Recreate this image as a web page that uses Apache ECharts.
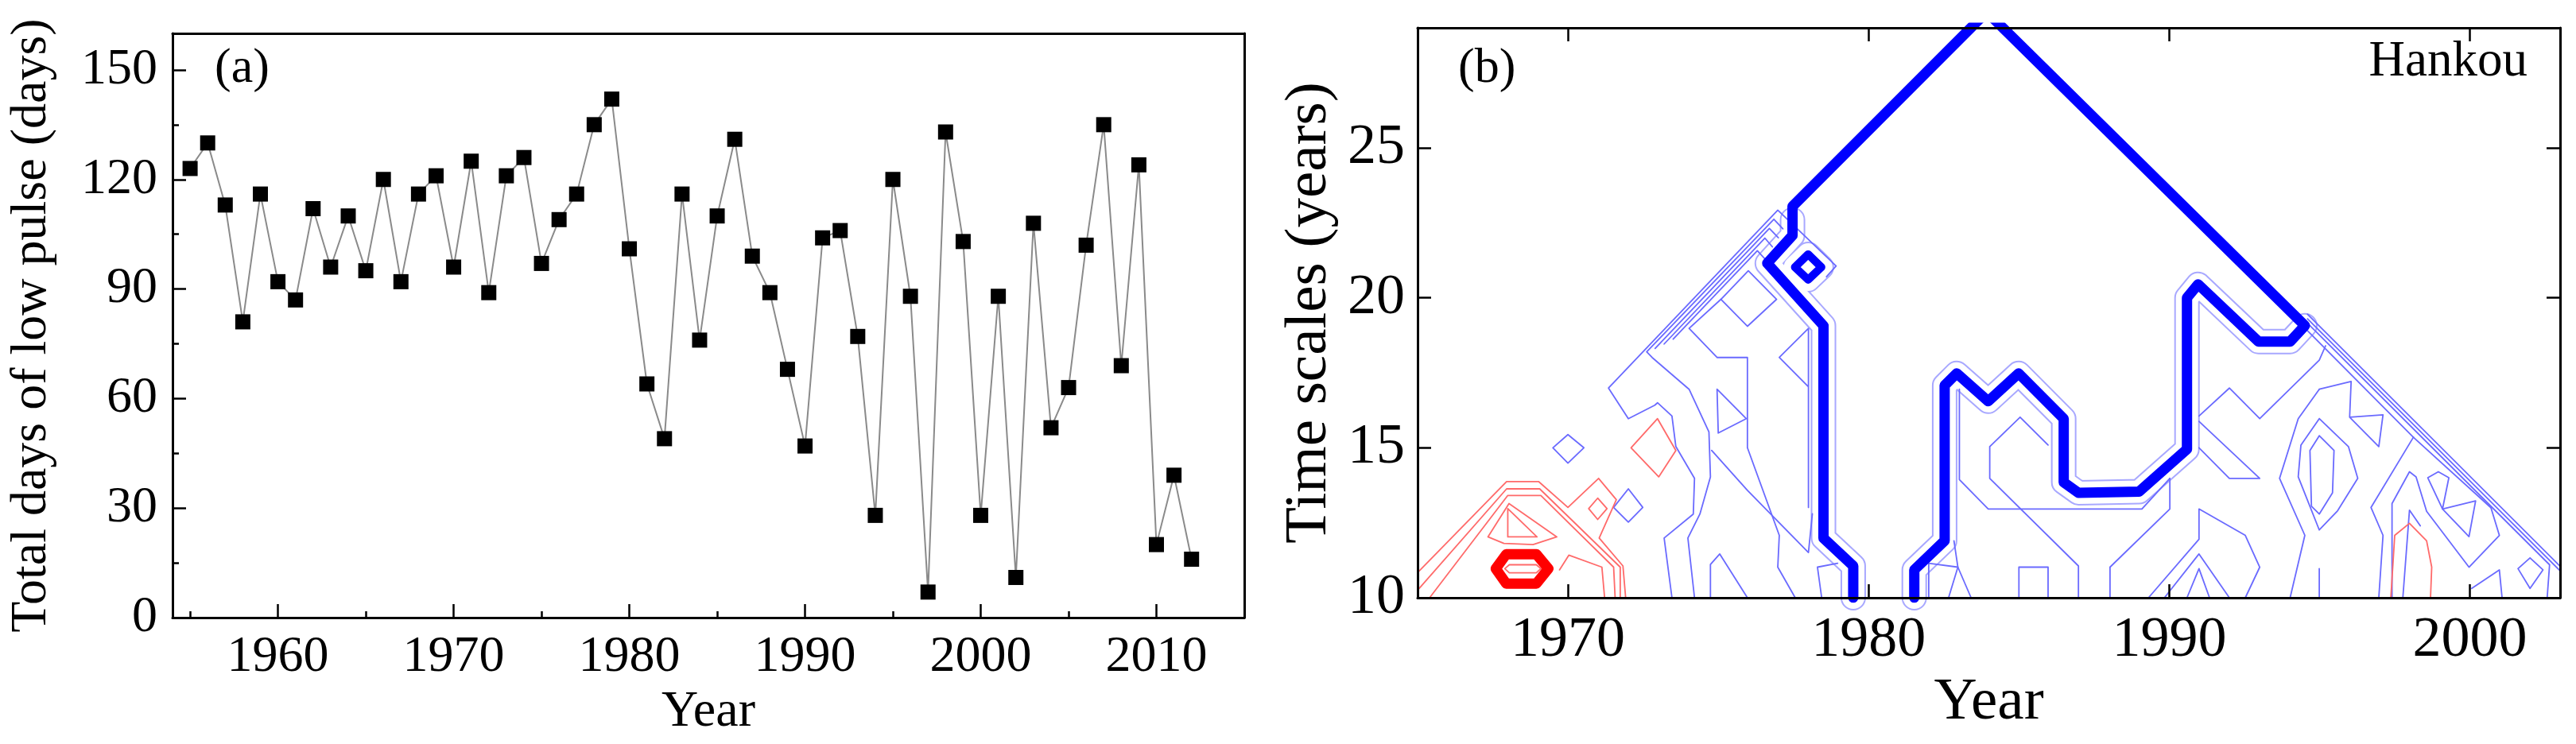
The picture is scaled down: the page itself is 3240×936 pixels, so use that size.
<!DOCTYPE html>
<html>
<head>
<meta charset="utf-8">
<script src="https://cdn.jsdelivr.net/npm/echarts@6/dist/echarts.min.js"></script>
<style>
html,body{margin:0;padding:0;background:#fff;}
#chart{width:3240px;height:936px;}
</style>
</head>
<body>
<div id="chart"></div>
<script>
// ---------- Panel (a) data ----------
const years = [1955,1956,1957,1958,1959,1960,1961,1962,1963,1964,1965,1966,1967,1968,1969,1970,1971,1972,1973,1974,1975,1976,1977,1978,1979,1980,1981,1982,1983,1984,1985,1986,1987,1988,1989,1990,1991,1992,1993,1994,1995,1996,1997,1998,1999,2000,2001,2002,2003,2004,2005,2006,2007,2008,2009,2010,2011,2012];
const lowPulseDays = [123,130,113,81,116,92,87,112,96,110,95,120,92,116,121,96,125,89,121,126,97,109,116,135,142,101,64,49,116,76,110,131,99,89,68,47,104,106,77,28,120,88,7,133,103,28,88,11,108,52,63,102,135,69,124,20,39,16];
const xTicksA = [1960,1970,1980,1990,2000,2010];
const xMinorTicksA = [1955,1965,1975,1985,1995,2005];
const yTicksA = [0,30,60,90,120,150];
const yMinorTicksA = [15,45,75,105,135];

// ---------- Panel (b) data: contour polylines as [year, time scale] ----------
const xTicksB = [1970,1980,1990,2000];
const yTicksB = [10,15,20,25];

const thickBlueMain = [[1979.49,10],[1979.49,11.06],[1978.5,11.99],[1978.5,19.07],[1976.63,21.15],[1977.47,22.08],[1977.47,23.05],[1983.93,29.53],[1994.51,19.07],[1994.02,18.54],[1992.97,18.54],[1990.96,20.45],[1990.59,20.0],[1990.59,14.95],[1989.0,13.54],[1986.98,13.5],[1986.49,13.85],[1986.49,15.97],[1984.99,17.48],[1983.98,16.55],[1982.93,17.48],[1982.53,17.08],[1982.53,11.9],[1981.52,10.93],[1981.52,10]];
const thickBlueRing = [[1977.55,21.02],[1977.99,21.45],[1978.43,21.02],[1977.99,20.6],[1977.55,21.02]];
const haloLeft = [[1979.49,10],[1979.49,11.06],[1978.5,11.99],[1978.5,19.07],[1976.63,21.15],[1977.47,22.08],[1977.47,22.6]];
const haloRight = [[1981.52,10],[1981.52,10.93],[1982.53,11.9],[1982.53,17.08],[1982.93,17.48],[1983.98,16.55],[1984.99,17.48],[1986.49,15.97],[1986.49,13.85],[1986.98,13.5],[1989.0,13.54],[1990.59,14.95],[1990.59,20.0],[1990.96,20.45],[1992.97,18.54],[1994.02,18.54],[1994.51,19.07]];

const thickRedRing = [[1967.6,10.97],[1967.95,11.45],[1968.95,11.45],[1969.35,10.97],[1968.95,10.47],[1967.95,10.47],[1967.6,10.97]];
const redA = [[1965.0,10.84],[1967.96,13.87],[1969.03,13.87],[1970.0,13.01],[1971.02,13.98],[1971.61,13.27],[1971.04,11.99],[1971.83,11.06],[1971.92,10]];
const redB = [[1965.05,10.31],[1967.96,13.63],[1969.06,13.63],[1971.74,11.02],[1971.74,10]];
const redC = [[1965.4,10],[1968.0,13.41],[1969.1,13.41],[1971.52,11.02],[1971.57,10]];
const redD = [[1967.34,12.03],[1968.04,13.14],[1969.63,12.03],[1968.84,11.77],[1967.87,11.81],[1967.34,12.03]];
const redE = [[1968.0,12.97],[1968.0,12.03],[1968.97,12.03],[1968.0,12.97]];
const redF = [[1970.69,12.97],[1970.99,13.32],[1971.3,12.97],[1970.99,12.61],[1970.69,12.97]];
const redG = [[1969.72,10.93],[1970.03,11.42],[1971.13,11.02],[1971.22,10]];
const redH = [[1972.1,15.0],[1972.98,15.97],[1973.59,14.91],[1973.02,14.03],[1972.1,15.0]];
const redI = [[1967.9,10.97],[1968.05,11.1],[1968.95,11.1],[1969.1,10.97],[1968.95,10.83],[1968.05,10.83],[1967.9,10.97]];
const redJ = [[1997.37,10],[1997.5,12.08],[1997.99,12.48],[1998.56,11.9],[1998.73,11.02],[1998.69,10]];

const blueA = [[1973.46,10],[1973.2,11.99],[1974.17,12.79],[1974.21,13.98],[1973.59,15.04],[1973.46,16.06],[1972.98,16.5],[1972.89,16.42],[1972.01,15.97],[1971.35,16.99],[1976.98,22.92],[1978.92,21.06],[1978.6,20.7]];
const blueB = [[1974.21,10],[1973.99,11.99],[1974.39,12.79],[1974.74,14.03],[1974.69,15.53],[1974.03,16.95],[1972.8,18.01],[1972.62,18.2],[1976.85,22.62],[1977.15,22.3]];
const blueL3 = [[1972.9,18.31],[1976.7,22.31],[1977.0,22.0]];
const blueL4 = [[1973.2,18.46],[1976.55,21.99],[1976.8,21.7]];
const blueL5 = [[1973.5,18.62],[1976.3,21.57],[1976.55,21.3]];
const blueDiamond = [[1976.94,19.95],[1976.0,20.9],[1975.09,19.95],[1975.97,19.05],[1976.94,19.95]];
const blueC = [[1975.09,19.95],[1974.03,18.98],[1974.96,18.01],[1975.97,18.01],[1975.97,15.0],[1977.03,12.08],[1976.98,11.02],[1977.56,10]];
const blueD = [[1974.96,16.95],[1975.93,15.97],[1975.0,15.49],[1974.96,16.95]];
const blueE = [[1978.0,13.01],[1978.0,18.98],[1977.03,18.01],[1978.0,17.03]];
const blueF = [[1974.78,14.91],[1975.97,13.58],[1978.0,11.51],[1978.13,12.8]];
const blueG = [[1974.74,10],[1974.74,11.11],[1975.05,11.46],[1975.97,10]];
const blueH = [[1978.44,10],[1978.3,11.02],[1978.97,11.15]];
const blueBD1 = [[1969.5,15.0],[1970.0,15.44],[1970.53,15.0],[1970.0,14.49],[1969.5,15.0]];
const blueBD2 = [[1971.52,13.01],[1972.01,13.63],[1972.49,13.01],[1972.01,12.52],[1971.52,13.01]];
const blueZ7a = [[1982.0,10],[1982.0,11.15],[1982.97,11.02],[1982.66,10]];
const blueZ7b = [[1982.84,11.9],[1982.97,11.02],[1983.41,10]];
const blueI = [[1983.02,16.95],[1983.02,13.94],[1983.98,12.96],[1989.09,12.96],[1990.02,13.98]];
const blueJ = [[1985.97,15.09],[1985.04,16.02],[1984.03,15.04],[1984.03,13.98],[1986.98,11.06],[1986.98,10]];
const blueRect = [[1985.0,10],[1985.0,11.02],[1985.97,11.02],[1985.97,10]];
const blueK = [[1988.03,10],[1988.03,11.02],[1990.02,12.96],[1990.02,13.98]];
const blueL = [[1990.99,15.88],[1993.01,13.98],[1992.0,13.98],[1990.99,15.0]];
const blueM = [[1990.99,16.06],[1992.0,16.99],[1993.01,15.97],[1994.99,17.92],[1995.2,18.4]];
const blueN = [[1994.99,16.95],[1994.29,15.97],[1993.67,13.98],[1994.51,12.08],[1994.02,10]];
const blueO = [[1994.99,15.4],[1994.68,14.91],[1994.73,13.05],[1994.99,12.79],[1995.43,13.5],[1995.48,14.91],[1994.99,15.4]];
const blueP = [[1994.99,15.97],[1994.38,15.09],[1994.29,14.03],[1994.99,12.26],[1995.6,12.9],[1996.27,13.98],[1995.96,15.04],[1994.99,15.97]];
const blueQ = [[1989.31,10],[1990.99,11.95],[1990.99,12.96],[1992.53,12.08],[1993.01,11.02],[1992.53,10]];
const blueR = [[1989.84,10],[1990.99,11.46],[1992.0,10]];
const blueS = [[1990.59,10],[1990.99,10.97],[1991.34,10]];
const blueT = [[1994.99,10.97],[1994.99,10]];
const blueW1 = [[1994.99,16.95],[1996.05,17.21],[1996.0,16.02],[1997.11,16.1],[1996.97,15.04],[1996.0,16.02]];
const blueU = [[1998.12,15.35],[1996.71,13.01],[1997.11,12.08],[1996.97,10]];
const blueV = [[1997.41,10],[1997.41,13.14],[1997.99,14.2],[1998.21,14.03],[1998.56,12.88],[1999.97,11.02],[2000.98,12.08],[2000.7,13.0],[1998.12,15.35]];
const blueW2 = [[1998.6,14.0],[1998.95,14.2],[1999.3,14.0],[1999.09,12.96],[1998.6,14.0]];
const blueW3 = [[1999.09,12.96],[2000.19,13.23],[1999.97,12.04],[1999.09,12.96]];
const blueX = [[1997.77,10],[1997.99,12.92],[1998.35,12.4]];
const blueY = [[2000.06,10.31],[2000.98,10.93],[2001.07,10]];
const blueSD = [[2001.6,10.97],[2002.0,11.33],[2002.43,10.93],[2002.0,10.31],[2001.6,10.97]];
const blueB1 = [[1994.6,19.45],[2003,11.05]];
const blueB2 = [[1994.6,19.3],[2003,10.9]];
const blueB3 = [[1994.6,19.15],[2002.65,11.1],[2002.57,10]];
const blueB4 = [[1994.6,18.9],[1998.12,15.35]];

const blueThin = [blueA,blueB,blueL3,blueL4,blueL5,blueDiamond,blueC,blueD,blueE,blueF,blueG,blueH,blueBD1,blueBD2,blueZ7a,blueZ7b,blueI,blueJ,blueRect,blueK,blueL,blueM,blueN,blueO,blueP,blueQ,blueR,blueS,blueT,blueW1,blueU,blueV,blueW2,blueW3,blueX,blueY,blueSD,blueB1,blueB2,blueB3,blueB4];
const redThin = [redA,redB,redC,redD,redE,redF,redG,redH,redI,redJ];

// ---------- build chart ----------
const FONT = '"Liberation Serif", "Times New Roman", serif';
const chart = echarts.init(document.getElementById('chart'), null, {renderer:'canvas'});

function contour(data, color, width, z) {
  return {type:'line', xAxisIndex:3, yAxisIndex:3, data:data, showSymbol:false, symbol:'none',
    lineStyle:{color:color, width:width, join:'round', cap:'round'}, z:z, silent:true, clip:true, animation:false};
}

const series = [];
series.push({
  type:'line', xAxisIndex:0, yAxisIndex:0,
  data: years.map((y,i)=>[y, lowPulseDays[i]]),
  symbol:'rect', symbolSize:19, showSymbol:true,
  itemStyle:{color:'#000'},
  lineStyle:{color:'#8a8a8a', width:2},
  animation:false, z:3
});
// halos around thick contour
[haloLeft, haloRight, thickBlueRing].forEach(d => series.push(contour(d, '#a8a8ff', 32, 2)));
[haloLeft, haloRight, thickBlueRing].forEach(d => series.push(contour(d, '#ffffff', 28, 3)));
blueThin.forEach(d => series.push(contour(d, '#6a6aff', 1.8, 4)));
redThin.forEach(d => series.push(contour(d, '#ff6a6a', 1.8, 4)));
series.push(contour(thickBlueMain, '#0000ff', 13, 6));
series.push(contour(thickBlueRing, '#0000ff', 10, 6));
series.push(contour(thickRedRing, '#ff0000', 13, 6));

const axisLine = {show:true, onZero:false, lineStyle:{color:'#000', width:3}};
const labelStyle = (size, margin, vals) => ({show:true, fontSize:size, fontFamily:FONT, color:'#000', margin:margin, customValues:vals, formatter: v => String(v)});

const option = {
  animation:false,
  backgroundColor:'#fff',
  textStyle:{fontFamily:FONT},
  title:[
    {text:'(a)', left:270, top:56, padding:0, textStyle:{fontSize:62, fontWeight:'normal', fontFamily:FONT, color:'#000'}},
    {text:'(b)', left:1834, top:56, padding:0, textStyle:{fontSize:62, fontWeight:'normal', fontFamily:FONT, color:'#000'}},
    {text:'Hankou', right:61, top:47, padding:0, textStyle:{fontSize:63, fontWeight:'normal', fontFamily:FONT, color:'#000'}}
  ],
  grid:[
    {left:217, top:42, width:1348, height:735},
    {left:1783, top:35, width:1437, height:717}
  ],
  xAxis:[
    {gridIndex:0, type:'value', min:1954, max:2015, position:'bottom', z:10,
     axisLine:axisLine,
     axisTick:{show:true, inside:true, length:17, lineStyle:{color:'#000', width:2.5}, customValues:xTicksA},
     axisLabel:labelStyle(64, 18, xTicksA),
     splitLine:{show:false},
     name:'Year', nameLocation:'middle', nameGap:83,
     nameTextStyle:{fontSize:64, fontFamily:FONT, color:'#000'}},
    {gridIndex:0, type:'value', min:1954, max:2015, position:'bottom', z:10,
     axisLine:{show:false},
     axisTick:{show:true, inside:true, length:8, lineStyle:{color:'#000', width:2.5}, customValues:xMinorTicksA},
     axisLabel:{show:false}, splitLine:{show:false}},
    {gridIndex:0, type:'value', min:1954, max:2015, position:'top', z:10,
     axisLine:axisLine, axisTick:{show:false}, axisLabel:{show:false}, splitLine:{show:false}},
    {gridIndex:1, type:'value', min:1965, max:2003, position:'bottom', z:10,
     axisLine:axisLine,
     axisTick:{show:true, inside:true, length:17, lineStyle:{color:'#000', width:2.5}, customValues:xTicksB},
     axisLabel:labelStyle(72, 18, xTicksB),
     splitLine:{show:false},
     name:'Year', nameLocation:'middle', nameGap:94,
     nameTextStyle:{fontSize:75, fontFamily:FONT, color:'#000'}},
    {gridIndex:1, type:'value', min:1965, max:2003, position:'top', z:10,
     axisLine:axisLine,
     axisTick:{show:true, inside:true, length:17, lineStyle:{color:'#000', width:2.5}, customValues:xTicksB},
     axisLabel:{show:false}, splitLine:{show:false}}
  ],
  yAxis:[
    {gridIndex:0, type:'value', min:0, max:160, position:'left', z:10,
     axisLine:axisLine,
     axisTick:{show:true, inside:true, length:17, lineStyle:{color:'#000', width:2.5}, customValues:yTicksA},
     axisLabel:labelStyle(64, 19, yTicksA),
     splitLine:{show:false},
     name:'Total days of low pulse (days)', nameLocation:'middle', nameGap:145, nameRotate:90,
     nameTextStyle:{fontSize:64, fontFamily:FONT, color:'#000'}},
    {gridIndex:0, type:'value', min:0, max:160, position:'left', z:10,
     axisLine:{show:false},
     axisTick:{show:true, inside:true, length:8, lineStyle:{color:'#000', width:2.5}, customValues:yMinorTicksA},
     axisLabel:{show:false}, splitLine:{show:false}},
    {gridIndex:0, type:'value', min:0, max:160, position:'right', z:10,
     axisLine:axisLine, axisTick:{show:false}, axisLabel:{show:false}, splitLine:{show:false}},
    {gridIndex:1, type:'value', min:10, max:29, position:'left', z:10,
     axisLine:axisLine,
     axisTick:{show:true, inside:true, length:17, lineStyle:{color:'#000', width:2.5}, customValues:yTicksB},
     axisLabel:labelStyle(72, 16, yTicksB),
     splitLine:{show:false},
     name:'Time scales (years)', nameLocation:'middle', nameGap:98, nameRotate:90,
     nameTextStyle:{fontSize:75, fontFamily:FONT, color:'#000'}},
    {gridIndex:1, type:'value', min:10, max:29, position:'right', z:10,
     axisLine:axisLine,
     axisTick:{show:true, inside:true, length:17, lineStyle:{color:'#000', width:2.5}, customValues:yTicksB},
     axisLabel:{show:false}, splitLine:{show:false}}
  ],
  series: series
};
chart.setOption(option);
</script>
</body>
</html>
